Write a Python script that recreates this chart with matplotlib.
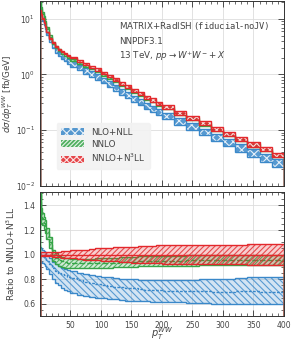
import numpy as np
import matplotlib
matplotlib.use("Agg")
import matplotlib.pyplot as plt
from matplotlib.ticker import MultipleLocator, LogLocator, NullFormatter

# bin edges in pT^WW [GeV]
edges = [0, 2, 4, 6, 8, 10, 15, 20, 25, 30, 35, 40, 45, 50,
         60, 70, 80, 90, 100, 110, 120, 130, 140, 150, 160, 170, 180, 190, 200,
         220, 240, 260, 280, 300, 320, 340, 360, 380, 400]

# NNLO+N3LL central [fb/GeV]
n3ll_central = [14.0, 12.0, 10.0, 8.5, 7.2, 5.8, 4.5, 3.7, 3.2, 2.85, 2.6, 2.4, 2.2,
                2.0, 1.75, 1.55, 1.38, 1.22, 1.07, 0.93, 0.8, 0.69, 0.6, 0.52, 0.45,
                0.39, 0.345, 0.3,
                0.26, 0.205, 0.165, 0.132, 0.105, 0.085, 0.068, 0.055, 0.045, 0.036]

# ratios to NNLO+N3LL
n3ll_up = [1.02, 1.02, 1.02, 1.02, 1.02, 1.02, 1.02, 1.02, 1.025, 1.025, 1.03, 1.03, 1.03,
           1.035, 1.04, 1.04, 1.045, 1.05, 1.05, 1.055, 1.06, 1.06, 1.065, 1.065, 1.07,
           1.07, 1.07, 1.075,
           1.075, 1.075, 1.08, 1.08, 1.08, 1.08, 1.08, 1.085, 1.085, 1.085]
n3ll_dn = [0.985, 0.985, 0.985, 0.985, 0.985, 0.985, 0.985, 0.98, 0.98, 0.98, 0.975, 0.975, 0.97,
           0.97, 0.965, 0.96, 0.955, 0.955, 0.95, 0.95, 0.945, 0.94, 0.94, 0.935, 0.935,
           0.93, 0.93, 0.93,
           0.925, 0.925, 0.925, 0.92, 0.92, 0.92, 0.92, 0.915, 0.915, 0.915]

nnlo_c = [2.5, 1.32, 1.29, 1.26, 1.23, 1.18, 1.10, 1.0, 0.97, 0.955, 0.945, 0.94, 0.935,
          0.93, 0.93, 0.93, 0.93, 0.93, 0.935, 0.935, 0.935, 0.94, 0.94, 0.94, 0.945,
          0.945, 0.945, 0.95,
          0.95, 0.95, 0.955, 0.955, 0.955, 0.955, 0.96, 0.96, 0.96, 0.96]
nnlo_up = [2.8, 1.38, 1.34, 1.31, 1.28, 1.22, 1.14, 1.04, 1.01, 0.99, 0.98, 0.975, 0.97,
           0.965, 0.965, 0.965, 0.965, 0.97, 0.97, 0.975, 0.975, 0.98, 0.98, 0.98, 0.985,
           0.985, 0.985, 0.99,
           0.99, 0.99, 0.995, 0.995, 0.995, 0.995, 1.0, 1.0, 1.0, 1.0]
nnlo_dn = [2.2, 1.26, 1.24, 1.21, 1.18, 1.13, 1.05, 0.95, 0.925, 0.91, 0.9, 0.895, 0.89,
           0.89, 0.888, 0.888, 0.89, 0.89, 0.893, 0.895, 0.897, 0.9, 0.9, 0.902, 0.905,
           0.905, 0.907, 0.908,
           0.908, 0.91, 0.91, 0.912, 0.912, 0.913, 0.913, 0.914, 0.914, 0.915]

nll_c = [1.0, 1.0, 0.99, 0.98, 0.97, 0.95, 0.92, 0.89, 0.87, 0.85, 0.84, 0.83, 0.82,
         0.81, 0.79, 0.78, 0.77, 0.76, 0.75, 0.745, 0.74, 0.735, 0.73, 0.725, 0.72,
         0.715, 0.71, 0.71,
         0.705, 0.70, 0.70, 0.70, 0.695, 0.695, 0.70, 0.70, 0.695, 0.695]
nll_up = [1.06, 1.05, 1.04, 1.03, 1.02, 1.0, 0.97, 0.94, 0.92, 0.905, 0.89, 0.88, 0.875,
          0.865, 0.85, 0.84, 0.83, 0.825, 0.82, 0.815, 0.81, 0.805, 0.80, 0.80, 0.795,
          0.79, 0.79, 0.79,
          0.79, 0.795, 0.795, 0.80, 0.80, 0.805, 0.81, 0.815, 0.82, 0.82]
nll_dn = [0.93, 0.94, 0.93, 0.92, 0.91, 0.88, 0.84, 0.80, 0.77, 0.75, 0.73, 0.715, 0.70,
          0.69, 0.675, 0.665, 0.655, 0.65, 0.645, 0.64, 0.635, 0.63, 0.625, 0.625, 0.62,
          0.62, 0.615, 0.615,
          0.61, 0.61, 0.605, 0.605, 0.60, 0.60, 0.60, 0.60, 0.595, 0.595]

blue = '#3a88c9'
green = '#35a447'
red = '#e3282c'
txt = '#444444'

plt.rcParams['hatch.linewidth'] = 0.8
plt.rcParams['font.size'] = 6
plt.rcParams['xtick.color'] = '#333333'
plt.rcParams['ytick.color'] = '#333333'
plt.rcParams['xtick.labelcolor'] = txt
plt.rcParams['ytick.labelcolor'] = txt

edges = np.array(edges)
ref = np.array(n3ll_central)

fig = plt.figure(figsize=(2.93, 3.41), dpi=100)
ax1 = fig.add_axes([0.1365, 0.4545, 0.8325, 0.5425])
ax2 = fig.add_axes([0.1365, 0.0733, 0.8325, 0.3637], sharex=ax1)

def band(ax, up, dn, col, hatch, label=None, central=None, ls='--', solid=True):
    if solid:
        # coloured fill with white hatch (main panel)
        h = ax.stairs(up, edges, baseline=dn, fill=True, facecolor=col, edgecolor='white',
                      hatch=hatch, lw=0, alpha=0.85, label=label)
    else:
        # pale fill with coloured hatch (ratio panel)
        ax.stairs(up, edges, baseline=dn, fill=True, facecolor=col, lw=0, alpha=0.22)
        h = ax.stairs(up, edges, baseline=dn, fill=True, facecolor='none', edgecolor=col,
                      hatch=hatch, lw=0, alpha=0.8, label=label)
    ax.stairs(up, edges, color=col, lw=1.0)
    ax.stairs(dn, edges, color=col, lw=1.0)
    if central is not None:
        ax.stairs(central, edges, color=col, lw=1.0, ls=ls)
    return h

# top panel
h1 = band(ax1, ref * np.array(nll_up), ref * np.array(nll_dn), blue, 'xxxx', 'NLO+NLL')
h2 = band(ax1, ref * np.array(nnlo_up), ref * np.array(nnlo_dn), green, '////////', 'NNLO')
h3 = band(ax1, ref * np.array(n3ll_up), ref * np.array(n3ll_dn), red, 'xxxxx', r'NNLO+N$^3$LL')

ax1.set_yscale('log')
ax1.set_ylim(0.0098, 21)
ax1.set_xlim(0, 400)
ax1.set_ylabel(r'$d\sigma/dp_T^{WW}$ [fb/GeV]', color=txt, fontsize=6.3, labelpad=1)
ax1.yaxis.set_major_locator(LogLocator(base=10, numticks=10))
ax1.yaxis.set_minor_locator(LogLocator(base=10, subs=np.arange(2, 10) * 0.1, numticks=20))
ax1.yaxis.set_minor_formatter(NullFormatter())
ax1.tick_params(labelbottom=False)

ax1.text(0.325, 0.865, r'MATRIX+RadISH ($\mathtt{fiducial}$-$\mathtt{noJV}$)',
         transform=ax1.transAxes, color=txt, fontsize=6.3, va='center')
ax1.text(0.325, 0.78, 'NNPDF3.1', transform=ax1.transAxes, color=txt, fontsize=6.3, va='center')
ax1.text(0.325, 0.70, r'13 TeV, $pp\to W^{+}W^{-} + X$', transform=ax1.transAxes,
         color=txt, fontsize=6.3, va='center')

leg = ax1.legend(handles=[h1, h2, h3], loc='lower left', bbox_to_anchor=(0.05, 0.07),
                 fontsize=6.3, frameon=True, fancybox=True, handlelength=2.6,
                 handleheight=0.9, labelspacing=0.35, borderpad=0.5, labelcolor=txt)
leg.get_frame().set_facecolor('#f2f2f2')
leg.get_frame().set_edgecolor('#f2f2f2')
leg.get_frame().set_alpha(0.9)

# ratio panel
band(ax2, nll_up, nll_dn, blue, '\\\\\\\\\\', central=nll_c, ls=(0, (2, 1)), solid=False)
band(ax2, nnlo_up, nnlo_dn, green, '///////', central=nnlo_c, ls=(0, (4, 1.5)), solid=False)
band(ax2, n3ll_up, n3ll_dn, red, '//////', central=np.ones(len(ref)), ls='-', solid=False)

ax2.set_ylim(0.5, 1.51)
ax2.set_ylabel(r'Ratio to NNLO+N$^3$LL', color=txt, fontsize=6.5, labelpad=4)
ax2.set_xlabel(r'$p_T^{WW}$', color=txt, fontsize=7, labelpad=-3)
ax2.yaxis.set_major_locator(MultipleLocator(0.2))
ax2.yaxis.set_minor_locator(MultipleLocator(0.05))
ax2.xaxis.set_major_locator(MultipleLocator(50))
ax2.xaxis.set_minor_locator(MultipleLocator(10))
ax2.set_xticks([50, 100, 150, 200, 250, 300, 350, 400])

for ax in (ax1, ax2):
    ax.grid(True, which='major', color='#dddddd', lw=0.6)
    ax.set_axisbelow(True)
    ax.tick_params(which='both', direction='in', top=True, right=True, labelsize=5.5)
    ax.tick_params(which='major', length=4, width=0.6)
    ax.tick_params(which='minor', length=2, width=0.5)
    for s in ax.spines.values():
        s.set_linewidth(0.7)
        s.set_color('#333333')

fig.savefig('out.png', dpi=100)
